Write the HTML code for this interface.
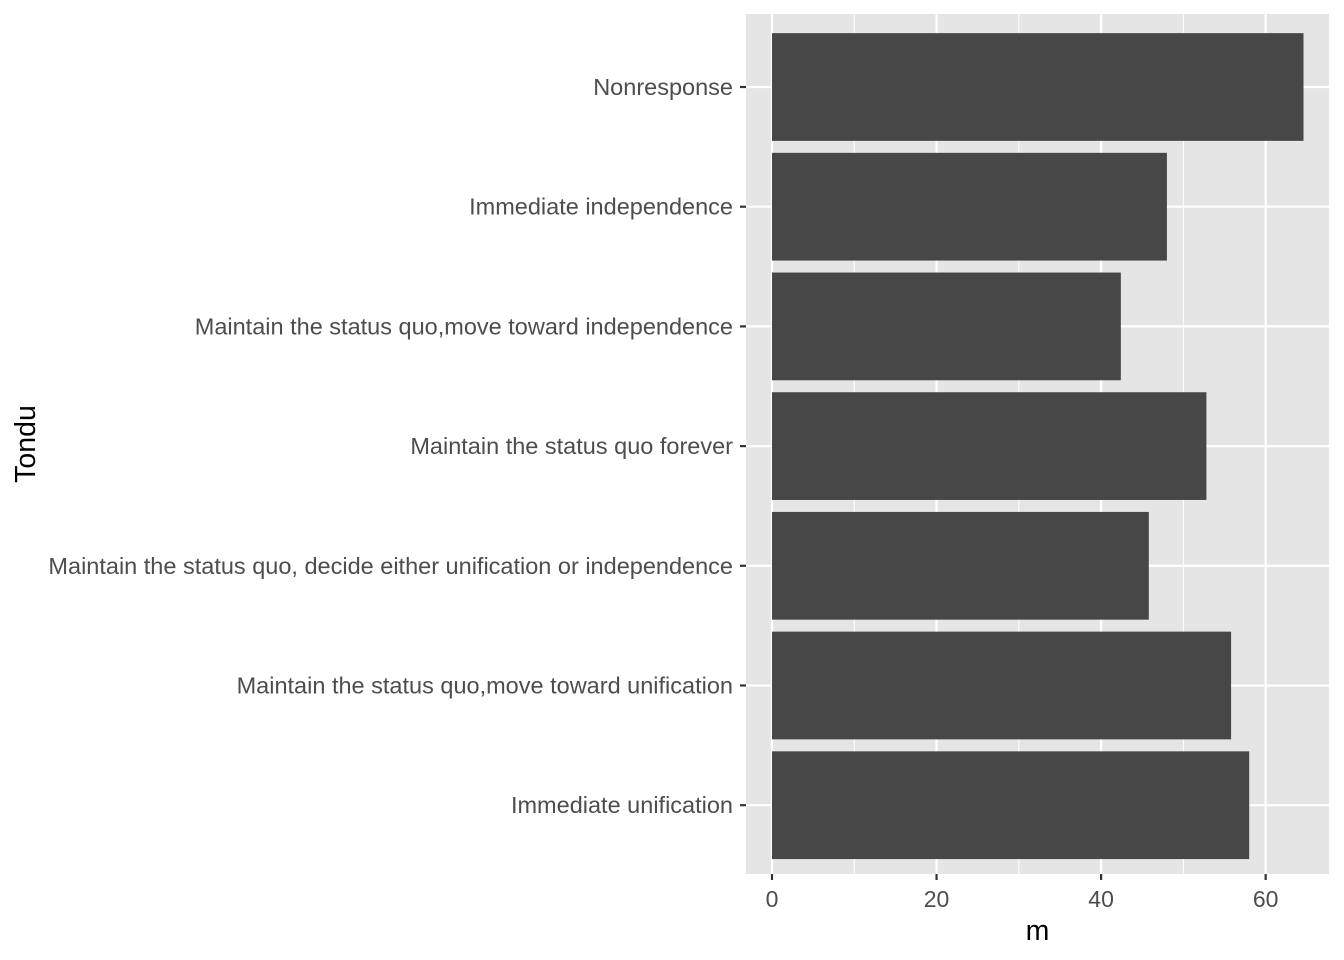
<!DOCTYPE html>
<html><head><meta charset="utf-8"><style>
body{margin:0;background:#fff;}
svg{display:block;font-family:"Liberation Sans",Arial,sans-serif;}
</style></head><body>
<svg id="chart" width="1344" height="960"></svg>
<script>
const categories=["Nonresponse","Immediate independence","Maintain the status quo,move toward independence","Maintain the status quo forever","Maintain the status quo, decide either unification or independence","Maintain the status quo,move toward unification","Immediate unification"];
const values=[64.6,48.0,42.4,52.8,45.8,55.8,58.0];
const xTicks=[0,20,40,60];
const xTickLabels=["0","20","40","60"];
const NS="http://www.w3.org/2000/svg";
const svg=document.getElementById('chart');
const P={l:746,r:1329,t:14,b:874};
const xmin=-3.16,xmax=67.7;
const x=v=>P.l+(v-xmin)/(xmax-xmin)*(P.r-P.l);
const n=categories.length;
const band=119.7;
const y=i=>P.t+73+band*i;
function mk(t,a,txt){const e=document.createElementNS(NS,t);for(const k in a)e.setAttribute(k,a[k]);if(txt!==undefined)e.textContent=txt;svg.appendChild(e);return e;}
const bg=mk('rect',{x:P.l,y:P.t,width:P.r-P.l,height:P.b-P.t,fill:'#e5e5e5'});


for(let i=0;i<xTicks.length-1;i++){const m=(xTicks[i]+xTicks[i+1])/2;const g=mk('line',{x1:x(m),x2:x(m),y1:P.t,y2:P.b,stroke:'#fff','stroke-width':1});

}
xTicks.forEach((t,i)=>{const g=mk('line',{x1:x(t),x2:x(t),y1:P.t,y2:P.b,stroke:'#fff','stroke-width':2.2});


const tk=mk('line',{x1:x(t),x2:x(t),y1:P.b,y2:P.b+6,stroke:'#333','stroke-width':2.2});


const lb=mk('text',{x:x(t),y:P.b+33,'text-anchor':'middle','font-size':23,fill:'#4d4d4d'},xTickLabels[i]);

});
categories.forEach((c,i)=>{const g=mk('line',{x1:P.l,x2:P.r,y1:y(i),y2:y(i),stroke:'#fff','stroke-width':2.2});

});
const bh=band*0.9;
categories.forEach((c,i)=>{const b=mk('rect',{x:x(0),y:y(i)-bh/2,width:x(values[i])-x(0),height:bh,fill:'#474747'});


const tk=mk('line',{x1:P.l-6,x2:P.l,y1:y(i),y2:y(i),stroke:'#333','stroke-width':2.2});


const lb=mk('text',{x:P.l-13,y:y(i)+8,'text-anchor':'end','font-size':23.5,fill:'#4d4d4d'},c);

});
const xt=mk('text',{x:(P.l+P.r)/2,y:940,'text-anchor':'middle','font-size':28.5,fill:'#000'},'m');


const yt=mk('text',{x:0,y:0,transform:`translate(35,${(P.t+P.b)/2}) rotate(-90)`,'text-anchor':'middle','font-size':28.5,fill:'#000'},'Tondu');


</script>
</body></html>
